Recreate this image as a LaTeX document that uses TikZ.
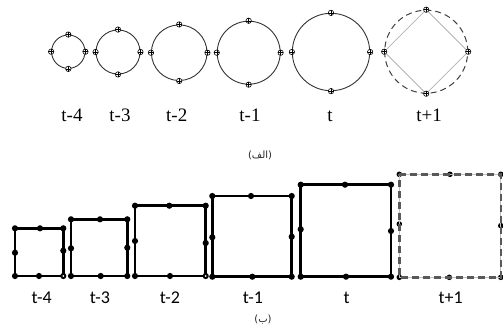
\documentclass[tikz,border=0pt]{standalone}
\usepackage{fontspec}
\setmainfont{Liberation Serif}
\newfontfamily\lblsans{Carlito}
\newfontfamily\capsans{DejaVu Sans}
\newfontfamily\arabicfont[Script=Arabic]{DejaVu Sans}
\TeXXeTstate=1
\tikzset{
  ring/.style={circle, draw=black!80, line width=0.9pt, inner sep=0pt},
  omark/.style={circle, draw=black, fill=white, minimum size=5.4pt, inner sep=0pt, line width=0.6pt,
    path picture={\draw[line width=0.5pt] (path picture bounding box.north) -- (path picture bounding box.south)
      (path picture bounding box.west) -- (path picture bounding box.east);}},
  sqline/.style={line width=2.6pt, line join=miter, black},
  sqdot/.style={circle, fill=black, minimum size=6.2pt, inner sep=0pt},
  hdot/.style={circle, draw=black, fill=white, minimum size=3.6pt, inner sep=0pt, line width=0.8pt},
  toplbl/.style={anchor=base, inner sep=0pt, font=\fontsize{19}{19}\selectfont},
  botlbl/.style={anchor=base, inner sep=0pt, font=\lblsans\fontsize{18}{18}\selectfont},
  caption/.style={inner sep=0pt, font=\fontsize{10}{11}\selectfont, text=black!85}
}
\newcommand\myring[5]{%
  \node[ring, minimum size=#4pt, #5] (#1) at (#2,#3) {};
}
\newcommand\myringmarks[1]{%
  \foreach \a in {north,south,east,west} \node[omark] (#1\a) at (#1.\a) {};
}
\newcommand\mysq[9]{%
  \coordinate (#1tl) at (#2,#4); \coordinate (#1tr) at (#3,#4);
  \coordinate (#1br) at (#3,#5); \coordinate (#1bl) at (#2,#5);
  \coordinate (#1tm) at (#6,#4); \coordinate (#1lm) at (#2,#7);
  \coordinate (#1rm) at (#3,#8); \coordinate (#1bm) at (#9,#5);
  \draw[sqline] (#1tl) -- (#1tr) -- (#1br) -- (#1bl) -- cycle;
  \foreach \p in {tl,tr,br,bl,tm,lm,rm,bm} \node[sqdot] (#1\p d) at (#1\p) {};
}
\begin{document}
\begin{tikzpicture}[x=1pt,y=-1pt]
\useasboundingbox (0,0) rectangle (503,330);
% top row: circles
\myring{c0}{68.3}{51.7}{33.4}{}
\myring{c1}{118}{52}{44}{}
\myring{c2}{179.2}{52.7}{55.6}{}
\myring{c3}{248.7}{52.7}{63}{}
\myring{c4}{331}{52}{77.4}{}
\myring{c5}{426.2}{51.7}{83}{draw=black!75, line width=1pt, dash pattern=on 6pt off 4pt}
\draw[black!30, line width=0.8pt] (c5.north) -- (c5.east) -- (c5.south) -- (c5.west) -- cycle;
\myringmarks{c0}
\myringmarks{c1}
\myringmarks{c2}
\myringmarks{c3}
\myringmarks{c4}
\myringmarks{c5}
\node[toplbl] (l0) at (72,121.5) {t-4};
\node[toplbl] (l1) at (120,121.5) {t-3};
\node[toplbl] (l2) at (176.7,121.5) {t-2};
\node[toplbl] (l3) at (250,121.5) {t-1};
\node[toplbl] (l4) at (330,121.5) {t};
\node[toplbl] (l5) at (429,121.5) {t+1};
\node[caption] (capa) at (260,155) {{\capsans(}{\arabicfont\beginR الف\endR}{\capsans)}};
% bottom row: squares
\mysq{q0}{15}{63.3}{228.3}{276}{40}{252.7}{250.7}{39}
\mysq{q1}{71}{127.3}{219.3}{276}{100}{248.3}{247.7}{100.7}
\mysq{q2}{135}{205.7}{205.7}{276}{169.3}{241}{243}{170}
\mysq{q3}{212.3}{291.7}{196}{276.7}{251}{237.3}{236.7}{252.3}
\mysq{q4}{300.7}{391}{184.7}{276.7}{345}{229.3}{231}{346}
\node[hdot] (q0h) at (q0br) {};
\node[hdot] (q2h) at (q2br) {};
% t+1 square
\coordinate (q5tl) at (399.3,174.3); \coordinate (q5tr) at (500.8,174.3);
\coordinate (q5br) at (500.8,277.3); \coordinate (q5bl) at (399.3,277.3);
\coordinate (q5tm) at (450,174.3); \coordinate (q5lm) at (399.3,224);
\coordinate (q5rm) at (500.8,225.7); \coordinate (q5bm) at (449.3,277.3);
\foreach \p in {tl,tr,br,bl,tm,lm,rm,bm} \node[sqdot, minimum size=5.6pt] (q5\p d) at (q5\p) {};
\draw[black!25, line width=1.2pt] (q5tl) -- (q5tr) -- (q5br) -- (q5bl) -- cycle;
\draw[black!65, line width=2.4pt, dash pattern=on 7pt off 4pt] (q5tl) -- (q5tr) -- (q5br) -- (q5bl) -- cycle;
\node[botlbl] (b0) at (41.7,303) {t-4};
\node[botlbl] (b1) at (100,303) {t-3};
\node[botlbl] (b2) at (170,303) {t-2};
\node[botlbl] (b3) at (253,303) {t-1};
\node[botlbl] (b4) at (346.7,303) {t};
\node[botlbl] (b5) at (450.7,303) {t+1};
\node[caption] (capb) at (263,320) {{\capsans(}{\arabicfont\beginR ب\endR}{\capsans)}};
\end{tikzpicture}
\end{document}
